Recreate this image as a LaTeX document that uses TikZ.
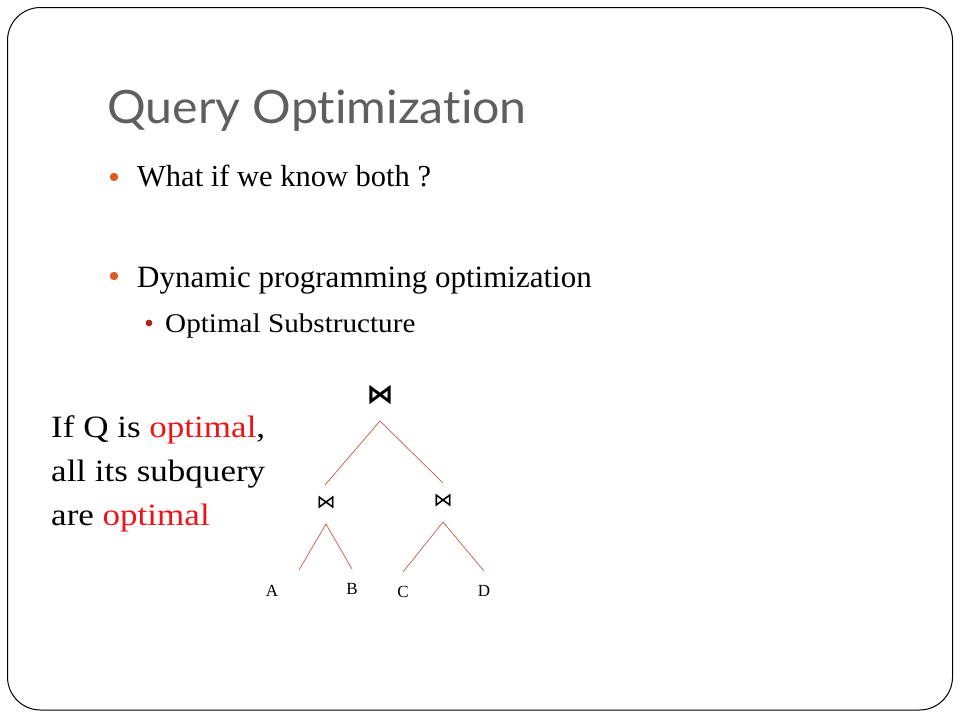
\documentclass[tikz,border=0pt]{standalone}
\usepackage{fontspec}
\setmainfont{Liberation Serif}
\newfontfamily\widefont[FakeStretch=1.13]{Liberation Serif}
\newfontfamily\subfont[FakeStretch=1.08]{Liberation Serif}
\newfontfamily\titlefont[Ligatures=NoCommon,FakeStretch=1.05]{Lato}
\newfontfamily\symfont{DejaVu Sans}
\definecolor{titlegray}{RGB}{95,95,95}
\definecolor{bulorange}{RGB}{222,90,30}
\definecolor{subred}{RGB}{170,40,30}
\definecolor{treeline}{RGB}{190,90,70}
\definecolor{optred}{RGB}{235,20,25}
\begin{document}
\begin{tikzpicture}[x=1pt,y=-1pt,
  txt/.style={inner sep=0pt,anchor=base west},
  leaf/.style={inner sep=0pt,anchor=base,font=\fontsize{17}{17}\selectfont},
  edge/.style={draw=treeline,line width=0.7pt},
  bigjoin/.style={inner sep=0pt,font=\symfont\bfseries\fontsize{27}{27}\selectfont},
  smalljoin/.style={inner sep=0pt,font=\symfont\fontsize{19}{19}\selectfont}]
\useasboundingbox (0,0) rectangle (960,720);
\draw[line width=1pt,rounded corners=33pt] (7.5,7.5) rectangle (952.5,710);
\node[txt,font=\titlefont\fontsize{46}{46}\selectfont,text=titlegray] (title) at (107,123) {Query Optimization};
\fill[bulorange] (114,177) circle (4.2pt);
\node[txt,font=\fontsize{30.5}{30.5}\selectfont] (b1) at (137,186) {What if we know both ?};
\fill[bulorange] (114,276) circle (4.2pt);
\node[txt,font=\fontsize{31}{31}\selectfont] (b2) at (137,287) {Dynamic programming optimization};
\fill[subred] (149,323) circle (3.4pt);
\node[txt,font=\subfont\fontsize{27}{27}\selectfont] (b3) at (165,332) {Optimal Substructure};
\node[txt,font=\widefont\fontsize{31}{31}\selectfont] (l1) at (51,437) {If Q is \textcolor{optred}{optimal},};
\node[txt,font=\widefont\fontsize{31}{31}\selectfont] (l2) at (51,481) {all its subquery};
\node[txt,font=\widefont\fontsize{31}{31}\selectfont] (l3) at (51,525) {are \textcolor{optred}{optimal}};
% tree
\node[bigjoin] (root) at (380,395) {⋈};
\node[smalljoin] (jl) at (326,503) {⋈};
\node[smalljoin] (jr) at (443,501) {⋈};
\coordinate (rt) at (380,421);
\coordinate (rl) at (325,485);
\coordinate (rr) at (443,483);
\coordinate (lt) at (326,524);
\coordinate (ll) at (299,570);
\coordinate (lr) at (352,569);
\coordinate (qt) at (443,522);
\coordinate (ql) at (403,572);
\coordinate (qr) at (484,571);
\draw[edge] (rl) -- (rt) -- (rr);
\draw[edge] (ll) -- (lt) -- (lr);
\draw[edge] (ql) -- (qt) -- (qr);
\node[leaf] (A) at (272,596) {A};
\node[leaf] (B) at (352,594) {B};
\node[leaf] (C) at (403,597) {C};
\node[leaf] (D) at (484,596) {D};
\end{tikzpicture}
\end{document}
